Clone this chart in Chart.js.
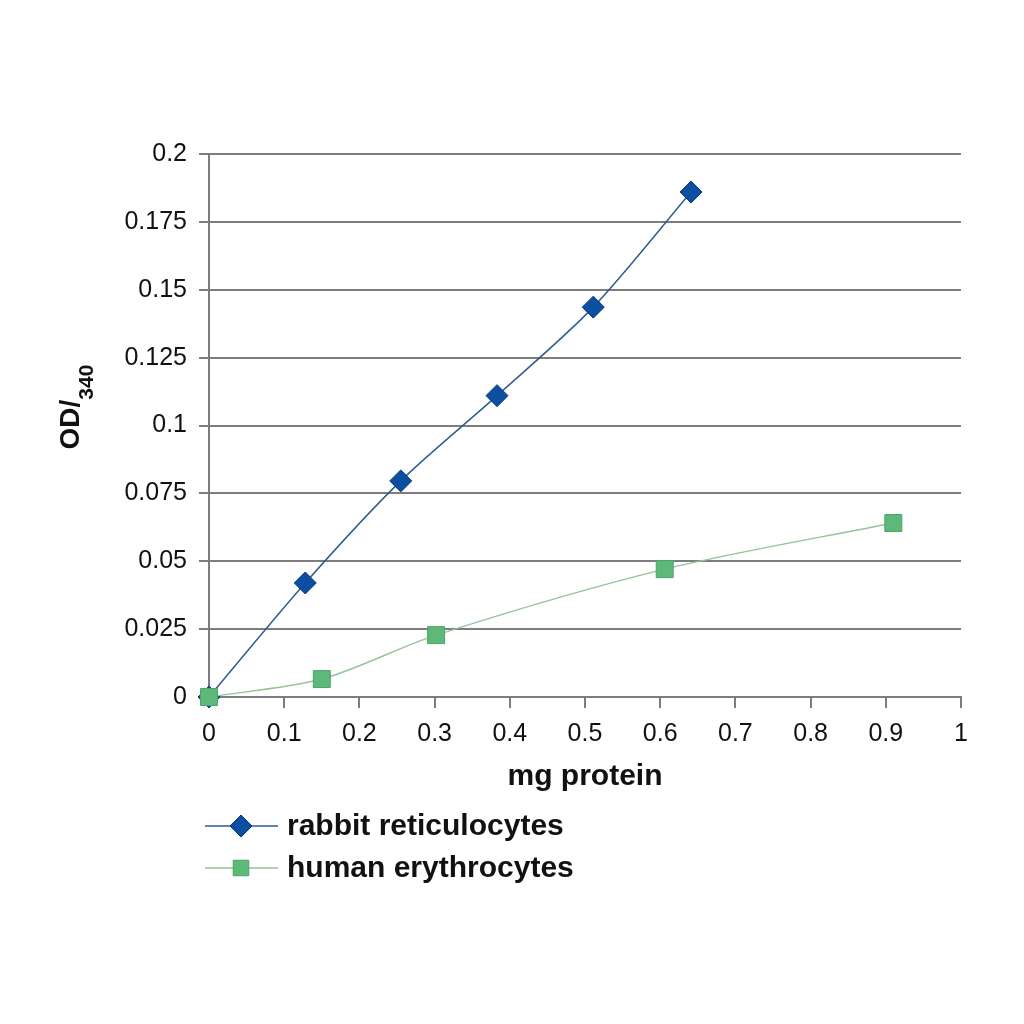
<!DOCTYPE html>
<html>
<head>
<meta charset="utf-8">
<title>OD340 vs mg protein</title>
<script src="https://cdn.jsdelivr.net/npm/chart.js@4.4.1/dist/chart.umd.min.js"></script>
<style>
  html, body { margin: 0; padding: 0; background: #fff; }
  canvas { display: block; }
</style>
</head>
<body>
<canvas id="chart" width="1024" height="1024"></canvas>
<script>
// data
const rabbitX = [0, 0.128, 0.255, 0.383, 0.511, 0.641];
const rabbitY = [0, 0.042, 0.0796, 0.111, 0.1436, 0.186];
const humanX = [0, 0.15, 0.302, 0.606, 0.91];
const humanY = [0, 0.0066, 0.0228, 0.0471, 0.0641];

const seriesNames = ['rabbit reticulocytes', 'human erythrocytes'];

const xTicks = [0, 0.1, 0.2, 0.3, 0.4, 0.5, 0.6, 0.7, 0.8, 0.9, 1];
const xTickLabels = ['0', '0.1', '0.2', '0.3', '0.4', '0.5', '0.6', '0.7', '0.8', '0.9', '1'];
const yTicks = [0, 0.025, 0.05, 0.075, 0.1, 0.125, 0.15, 0.175, 0.2];
const yTickLabels = ['0', '0.025', '0.05', '0.075', '0.1', '0.125', '0.15', '0.175', '0.2'];

const FONT = '"Liberation Sans", Arial, Helvetica, sans-serif';
const GRID = '#7d7d7d';
const BLUE_LINE = '#2f5d8c';
const BLUE_FILL = '#0b4ea2';
const BLUE_EDGE = '#073a7a';
const GREEN_LINE = '#93c49a';
const GREEN_FILL = '#5db87a';
const GREEN_EDGE = '#4aa567';

function toPoints(xs, ys) {
  return xs.map((x, i) => ({ x: x, y: ys[i] }));
}

// axis titles (with subscript) and the legend under the plot
const extrasPlugin = {
  id: 'extras',
  afterDraw(chart) {
    const ctx = chart.ctx;
    const area = chart.chartArea;
    ctx.save();
    ctx.fillStyle = '#111';

    // x title
    ctx.font = 'bold 30px ' + FONT;
    ctx.textAlign = 'center';
    ctx.textBaseline = 'middle';
    ctx.fillText('mg protein', (area.left + area.right) / 2, 777);

    // y title: OD/340 with 340 as subscript
    ctx.translate(79, 407);
    ctx.rotate(-Math.PI / 2);
    ctx.textAlign = 'left';
    ctx.textBaseline = 'alphabetic';
    ctx.font = 'bold 28px ' + FONT;
    const w1 = ctx.measureText('OD/').width;
    ctx.font = 'bold 21px ' + FONT;
    const w2 = ctx.measureText('340').width;
    const start = -(w1 + w2) / 2;
    ctx.font = 'bold 28px ' + FONT;
    ctx.fillText('OD/', start, 0);
    ctx.font = 'bold 21px ' + FONT;
    ctx.fillText('340', start + w1, 14);
    ctx.restore();

    // legend
    const rows = [
      { y: 826, line: BLUE_LINE, fill: BLUE_FILL, edge: BLUE_EDGE, style: 'rectRot', r: 11 },
      { y: 868, line: GREEN_LINE, fill: GREEN_FILL, edge: GREEN_EDGE, style: 'rect', r: 11 }
    ];
    ctx.save();
    rows.forEach((row, i) => {
      ctx.strokeStyle = row.line;
      ctx.lineWidth = 1.5;
      ctx.beginPath();
      ctx.moveTo(205, row.y);
      ctx.lineTo(278, row.y);
      ctx.stroke();
      ctx.fillStyle = row.fill;
      ctx.strokeStyle = row.edge;
      ctx.lineWidth = 1;
      Chart.helpers.drawPoint(ctx, { pointStyle: row.style, radius: row.r, rotation: 0, borderWidth: 1 }, 241, row.y);
      ctx.fillStyle = '#111';
      ctx.font = 'bold 30px ' + FONT;
      ctx.textAlign = 'left';
      ctx.textBaseline = 'middle';
      ctx.fillText(seriesNames[i], 287, row.y + 1);
    });
    ctx.restore();
  }
};

new Chart(document.getElementById('chart'), {
  type: 'line',
  data: {
    datasets: [
      {
        label: seriesNames[0],
        data: toPoints(rabbitX, rabbitY),
        borderColor: BLUE_LINE,
        borderWidth: 1.5,
        backgroundColor: BLUE_FILL,
        pointBackgroundColor: BLUE_FILL,
        pointBorderColor: BLUE_EDGE,
        pointBorderWidth: 1,
        pointStyle: 'rectRot',
        pointRadius: 11,
        tension: 0.3,
        clip: false,
        order: 1
      },
      {
        label: seriesNames[1],
        data: toPoints(humanX, humanY),
        borderColor: GREEN_LINE,
        borderWidth: 1.5,
        backgroundColor: GREEN_FILL,
        pointBackgroundColor: GREEN_FILL,
        pointBorderColor: GREEN_EDGE,
        pointBorderWidth: 1,
        pointStyle: 'rect',
        pointRadius: 12,
        tension: 0.3,
        clip: false,
        order: 0
      }
    ]
  },
  options: {
    responsive: false,
    animation: false,
    devicePixelRatio: 1,
    layout: { padding: { top: 154, right: 63, bottom: 267, left: 0 } },
    plugins: {
      legend: { display: false },
      tooltip: { enabled: false }
    },
    scales: {
      x: {
        type: 'linear',
        min: 0,
        max: 1,
        afterBuildTicks: (scale) => { scale.ticks = xTicks.map(v => ({ value: v })); },
        afterFit: (scale) => { scale.height = 60; },
        ticks: {
          callback: (v) => xTickLabels[xTicks.indexOf(v)],
          color: '#111',
          font: { family: FONT, size: 25 },
          padding: 11,
          maxRotation: 0,
          autoSkip: false
        },
        grid: { drawOnChartArea: false, drawTicks: true, tickLength: 11, color: GRID, lineWidth: 2 },
        border: { display: true, color: GRID, width: 2 }
      },
      y: {
        type: 'linear',
        min: 0,
        max: 0.2,
        afterBuildTicks: (scale) => { scale.ticks = yTicks.map(v => ({ value: v })); },
        afterFit: (scale) => { scale.width = 209; },
        ticks: {
          callback: (v) => yTickLabels[yTicks.indexOf(v)],
          color: '#111',
          font: { family: FONT, size: 25 },
          padding: 12
        },
        grid: { drawTicks: true, tickLength: 10, color: GRID, lineWidth: 2 },
        border: { display: true, color: GRID, width: 2 }
      }
    }
  },
  plugins: [extrasPlugin]
});
</script>
</body>
</html>
